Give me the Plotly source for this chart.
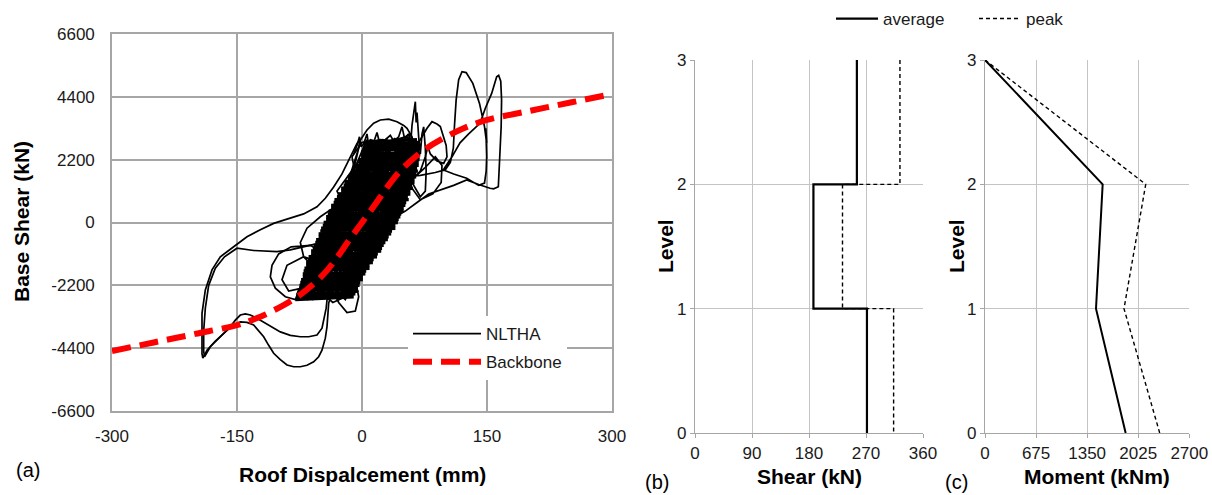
import plotly.graph_objects as go

# ---------------- (a) Base shear vs roof displacement ----------------
backbone_disp = [-300, -250, -200, -150, -122, -94, -75, -60, -45, -30, -15, 0,
                 15, 30, 45, 60, 75, 94, 122, 150, 200, 250, 300]
backbone_shear = [-4500, -4200, -3900, -3590, -3300, -2890, -2550, -2200, -1780, -1230, -600, 0,
                  600, 1230, 1780, 2200, 2550, 2890, 3300, 3590, 3900, 4200, 4500]

# NLTHA response, as (displacement mm, shear kN) pairs
nltha_cloud_a = [
    (0, 0), (8, 400), (18, 1000), (28, 1600), (24, 1200), (10, 400), (-6, -300), (-18, -900), (-28, -1500), (-24, -1100),
    (-10, -400), (6, 300), (20, 1100), (34, 1900), (40, 2300), (34, 2000), (18, 1200), (2, 400), (-14, -400), (-30, -1300),
    (-42, -1900), (-38, -1500), (-24, -800), (-8, 0), (10, 900), (26, 1700), (44, 2600), (50, 2900), (42, 2400), (26, 1500),
    (8, 600), (-12, -400), (-34, -1400), (-54, -2300), (-60, -2500), (-50, -2000), (-32, -1100), (-14, -200), (4, 700), (20, 1500),
    (38, 2400), (54, 3000), (58, 2700), (48, 2100), (30, 1200), (12, 300), (-6, -700), (-26, -1700), (-44, -2400), (-66, -2700),
    (-62, -2300), (-46, -1600), (-28, -800), (-12, 100), (2, 900), (14, 1800), (24, 2600), (30, 2950), (26, 2500), (16, 1600),
    (0, 600), (-16, -300), (-32, -1200), (-52, -2000), (-74, -2600), (-72, -2200), (-54, -1400), (-40, -600), (-30, 200), (-20, 1000),
    (-10, 1800), (0, 2500), (6, 2900), (2, 2300), (-8, 1500), (-20, 700), (-32, -200), (-44, -1100), (-58, -1900), (-48, -1300),
    (-38, -500), (-18, 400), (0, 1200), (18, 2000), (40, 2800), (58, 3100), (54, 2500), (40, 1700), (26, 800), (10, -200),
    (-6, -1200), (-20, -2000), (-30, -2500), (-24, -2000), (-8, -1000), (8, 100), (24, 1100), (40, 2000), (56, 2600), (50, 2000),
    (34, 1000), (16, 0), (-2, -1000), (-16, -1900), (-36, -2400), (-56, -2650), (-50, -2200), (-36, -1500), (-20, -600), (-4, 400),
    (10, 1300), (22, 2100), (34, 2800), (44, 2900), (40, 2500), (28, 1700), (12, 800), (-4, -100), (-20, -1000), (-34, -1800),
]
nltha_cloud_b = [
    (-46, -2300), (-40, -1800), (-26, -1000), (-12, -200), (4, 700), (16, 1500), (28, 2300), (36, 2700), (30, 2200), (18, 1400),
    (2, 500), (-14, -500), (-30, -1400), (-44, -2000), (-62, -2500), (-80, -2700), (-76, -2400), (-60, -1800), (-48, -1000), (-38, -200),
    (-28, 600), (-18, 1300), (-10, 2000), (-4, 2600), (-8, 2100), (-18, 1300), (-30, 500), (-40, -300), (-52, -1200), (-64, -2000),
    (-70, -2200), (-60, -1600), (-46, -800), (-34, 0), (-22, 800), (-10, 1600), (2, 2300), (10, 2800), (22, 2900), (34, 2850),
    (46, 2950), (52, 3000), (60, 2900), (62, 2500), (56, 1900), (44, 1200), (30, 400), (16, -400), (2, -1200), (-8, -2000),
    (-4, -2600), (-8, -3100), (-18, -3150), (-28, -2800), (-38, -2200), (-52, -1600), (-40, -1000), (-24, -200), (-8, 600), (8, 1400),
    (22, 2200), (36, 2800), (48, 2600), (54, 2100), (44, 1500), (30, 700), (18, -100), (4, -900), (-10, -1700), (-24, -2300),
    (-40, -2600), (-48, -2400), (-38, -1800), (-24, -1100), (-8, -300), (8, 500), (22, 1300), (36, 2100), (50, 2700), (44, 2200),
    (30, 1400), (14, 600), (0, -200), (-16, -1100), (-30, -1900), (-20, -1400), (-4, -600), (12, 300), (28, 1200), (44, 2100),
    (58, 2800), (60, 2300), (50, 1600), (36, 800), (20, 0), (4, -800), (-12, -1600), (-26, -2200), (-14, -1500), (0, -700),
    (14, 200), (30, 1000), (46, 1800), (54, 2300), (44, 1600), (28, 600), (12, -300), (-2, -1100), (-14, -1800), (-6, -1300),
]
nltha_cloud_c = [
    (-75, -2600), (-45, -2000), (-30, -2300), (-60, -2700), (-40, -2500), (-15, -1900), (-5, -2400), (-35, -2800), (-55, -2300), (-70, -2000),
    (-50, -1700), (-20, -1500), (-10, -2000), (-40, -1900), (-60, -1600), (-45, -1100), (-20, -900), (0, -1300), (-10, -1800), (-30, -1600),
    (-50, -1300), (-35, -800), (-10, -500), (10, -900), (0, -1400), (-25, -1200), (-45, -900), (-30, -300), (-5, -100), (15, -500),
    (25, -200), (5, -900), (-20, -1000), (-38, -500), (-20, 100), (5, 300), (25, 0), (35, 200), (15, -300), (-10, -600),
    (-35, -200), (-40, 200), (-25, 700), (0, 900), (25, 500), (40, 800), (20, 200), (-5, 100), (-30, 400), (-15, 1000),
    (10, 1300), (35, 1000), (45, 1300), (25, 800), (0, 600), (-25, 800), (-30, 1100), (-15, 1700), (10, 1900), (35, 1500),
    (50, 1800), (30, 1200), (5, 1100), (-20, 1500), (-5, 2100), (20, 2400), (45, 2100), (55, 2500), (35, 1900), (10, 1700),
    (-10, 2000), (-12, 2300), (0, 2800), (25, 2900), (50, 2700), (60, 2900), (45, 2300), (20, 2200), (0, 2500), (10, 2900),
    (35, 2700), (55, 2400), (58, 2000), (40, 1900), (20, 2600), (40, 2950), (30, 2300), (15, 1200), (0, 300), (-15, -700),
    (-30, -1700), (-45, -2600), (-25, -2100), (-5, -1000), (12, 100), (28, 1300), (45, 2500), (50, 2100), (35, 1100), (20, 100),
    (5, -700), (-15, -1500), (-35, -2100), (-55, -2500), (-65, -2200), (-45, -1400), (-25, -500), (-8, 500), (10, 1500), (25, 2300),
    (15, 2700), (0, 2000), (-20, 1100), (-35, 200), (-50, -700), (-65, -1700), (-78, -2500), (-58, -2650), (-30, -2000), (-12, -900),
    (5, 200), (22, 1000), (42, 1500), (55, 1600), (40, 800), (25, -100), (8, -1000), (-8, -1900), (-20, -2700), (-40, -2200),
]
# dense core of the response: rapid reversals across the whole band
nltha_core_up = [
    (-80, -2700), (-10, -2600), (-78, -2500), (-5, -2400), (-75, -2300), (-3, -2200), (-74, -2100), (1, -2000), (-71, -1900), (4, -1800),
    (-70, -1700), (9, -1600), (-67, -1500), (13, -1400), (-65, -1300), (18, -1200), (-61, -1100), (23, -1000), (-59, -900), (26, -800),
    (-56, -700), (31, -600), (-52, -500), (35, -400), (-50, -300), (40, -200), (-47, -100), (43, 0), (-43, 100), (46, 200),
    (-41, 300), (50, 400), (-37, 500), (52, 600), (-34, 700), (56, 800), (-30, 900), (58, 1000), (-25, 1100), (61, 1200),
    (-22, 1300), (63, 1400), (-17, 1500), (65, 1600), (-13, 1700), (67, 1800), (-8, 1900), (68, 2000), (-4, 2100), (69, 2200),
    (-1, 2300), (70, 2400), (1, 2500), (70, 2600), (2, 2700), (68, 2800),
]
nltha_core_down = [
    (66, 2900), (2, 2800), (70, 2700), (1, 2600), (69, 2500), (-1, 2400), (69, 2300), (-4, 2200), (68, 2100), (-8, 2000),
    (66, 1900), (-12, 1800), (65, 1700), (-17, 1600), (63, 1500), (-21, 1400), (60, 1300), (-25, 1200), (58, 1100), (-29, 1000),
    (55, 900), (-33, 800), (53, 700), (-37, 600), (50, 500), (-40, 400), (47, 300), (-43, 200), (44, 100), (-46, 0),
    (40, -100), (-49, -200), (36, -300), (-52, -400), (32, -500), (-55, -600), (28, -700), (-58, -800), (24, -900), (-61, -1000),
    (19, -1100), (-64, -1200), (14, -1300), (-67, -1400), (9, -1500), (-69, -1600), (5, -1700), (-71, -1800), (1, -1900), (-73, -2000),
    (-2, -2100), (-75, -2200), (-5, -2300), (-77, -2400), (-8, -2500), (-79, -2600),
]
nltha_spikes = [
    (-10, 2400), (-6, 2700), (-3, 3000), (-1, 2650), (2, 2750), (6, 3100), (8, 2700), (14, 2800), (18, 3150), (21, 2800),
    (28, 2900), (34, 3050), (38, 2850), (44, 3000), (48, 3350), (51, 2950), (56, 3100), (58, 2600), (60, 3400), (62, 3900),
    (64, 4230), (65, 3500), (66, 3850), (68, 3000), (70, 2400), (72, 3100), (74, 3350), (76, 2600), (77, 1800), (76, 1100),
    (70, 900), (60, 1400), (55, 2100),
]
nltha_left_small = [
    (-30, -1700), (-50, -1000), (-62, -800), (-85, -850), (-100, -1100), (-108, -1500), (-110, -1900), (-104, -2300),
    (-92, -2600), (-80, -2700), (-70, -2500), (-58, -2000), (-50, -1400), (-70, -1200), (-90, -1500), (-96, -2000),
    (-88, -2400), (-72, -2300), (-56, -1800), (-40, -1200), (-30, 600), (-50, 200), (-66, -200), (-74, -700),
    (-70, -1200), (-60, -1500), (-44, -900),
]
nltha_left_arc_1 = [
    (-4, 2600), (-2, 2900), (-6, 2770), (-14, 2300), (-24, 1700), (-34, 1240), (-44, 850), (-54, 550), (-70, 300),
    (-90, 120), (-106, -30), (-122, -250), (-138, -500), (-154, -850), (-170, -1200), (-180, -1660), (-188, -2360),
    (-192, -3180), (-192, -4000), (-192, -4600), (-191, -4750), (-186, -4470), (-176, -4150), (-166, -3880),
    (-156, -3620), (-146, -3480), (-138, -3500), (-130, -3590), (-124, -3780), (-118, -4000), (-112, -4300),
    (-106, -4580), (-98, -4800), (-90, -4990), (-82, -5050), (-74, -5050), (-66, -5000), (-58, -4880), (-52, -4700),
    (-48, -4470), (-44, -4050), (-42, -3650), (-40, -2830), (-36, -2400), (-26, -1800),
]
nltha_left_arc_2 = [
    (-36, -2300), (-40, -600), (-55, -750), (-70, -850), (-86, -960), (-102, -1020), (-130, -980), (-150, -900),
    (-165, -1200), (-176, -1600), (-184, -2200), (-188, -3000), (-190, -3800), (-190, -4500), (-189, -4700),
    (-182, -4350), (-174, -4120), (-166, -3880), (-158, -3650), (-152, -3420), (-146, -3240), (-140, -3200),
    (-134, -3240), (-126, -3350), (-118, -3480), (-108, -3650), (-98, -3830), (-86, -3950), (-74, -4000),
    (-64, -4000), (-54, -3940), (-48, -3700), (-46, -3415), (-43, -3000), (-42, -2715), (-38, -2300), (-30, -1700),
]
nltha_top_loop = [
    (-4, 2600), (-2, 2890), (6, 3240), (14, 3480), (22, 3590), (32, 3620), (42, 3530), (50, 3400), (54, 3300),
    (60, 3000), (62, 2700), (60, 2300), (52, 1800),
]
nltha_right_loops = [
    (52, 1800), (60, 2500), (70, 2900), (78, 3300), (84, 3530), (90, 3450), (94, 3360), (98, 3000), (101, 2700),
    (102, 2300), (98, 2070), (90, 2150), (82, 2400), (79, 2650), (76, 2300), (70, 1800), (60, 1500), (75, 1900),
    (88, 2300), (96, 2000), (95, 1400), (85, 1000), (70, 800), (50, 1600), (70, 1650), (88, 1750), (100, 1850),
    (106, 2100), (109.6, 2600), (111, 3400), (113, 4300), (116, 5000), (120, 5280), (125, 5250), (133, 4870),
    (141, 4170), (147, 3360), (149.6, 2770), (148.6, 3300), (149.6, 2300), (149, 1800), (147, 1380), (140, 1300),
    (125.6, 1550), (110, 1700), (97.6, 1840), (108, 2300), (117.6, 2790), (128, 3100), (137.6, 3360), (141.6, 3470),
    (148, 4000), (155.6, 4520), (161.6, 5100), (164, 5150), (166.5, 4950), (167.5, 4300), (167, 3360), (165, 2300),
    (163.6, 1250), (158, 1180), (153.6, 1200), (140, 1330), (125.6, 1490), (110, 1300), (93.6, 1140), (80, 1000),
    (66, 700), (52, 400), (40, 200),
]
nltha_segments = [nltha_cloud_a, nltha_cloud_b, nltha_cloud_c, nltha_core_up, nltha_core_down, nltha_spikes,
                  nltha_left_small, nltha_left_arc_1, nltha_left_arc_2, nltha_top_loop, nltha_right_loops]
nltha_widths = [1.7, 1.7, 1.7, 3.4, 3.4, 1.7, 1.7, 1.7, 1.7, 1.7, 1.7]

disp_ticks = [-300, -150, 0, 150, 300]
disp_labels = ["-300", "-150", "0", "150", "300"]
shear_ticks = [-6600, -4400, -2200, 0, 2200, 4400, 6600]
shear_labels = ["-6600", "-4400", "-2200", "0", "2200", "4400", "6600"]

# ---------------- (b) storey shear ----------------
levels = [0, 1, 2, 3]
storey_shear_avg = [271.5, 187, 255.6]    # storeys 0-1, 1-2, 2-3
storey_shear_peak = [313.6, 232.9, 323.6]
shear_ticks_b = [0, 90, 180, 270, 360]

# ---------------- (c) moment ----------------
moment_avg = [1859, 1467, 1555, 0]     # at levels 0..3
moment_peak = [2309, 1837, 2124, 0]
moment_ticks = [0, 675, 1350, 2025, 2700]

FONT = "Liberation Sans, Arial, sans-serif"
TXT = "#1a1a1a"
W, H = 1212, 495


def px(x):
    return x / W


def py(y):
    return 1 - y / H


def step_profile(vals):
    xs, ys = [], []
    for i in range(len(vals) - 1, -1, -1):
        xs += [vals[i], vals[i]]
        ys += [levels[i + 1], levels[i]]
    return xs, ys


fig = go.Figure()

for k, seg in enumerate(nltha_segments):
    fig.add_trace(go.Scatter(
        x=[p[0] for p in seg], y=[p[1] for p in seg], mode="lines",
        line=dict(color="black", width=nltha_widths[k]), name="NLTHA", legendgroup="nltha",
        showlegend=(k == 0), xaxis="x", yaxis="y", legend="legend", hoverinfo="skip"))

fig.add_trace(go.Scatter(
    x=backbone_disp, y=backbone_shear, mode="lines",
    line=dict(color="#ff0000", width=6, dash="19px,9px", shape="spline"),
    name="Backbone", legendgroup="bb", xaxis="x", yaxis="y", legend="legend"))

bx, by = step_profile(storey_shear_avg)
fig.add_trace(go.Scatter(x=bx, y=by, mode="lines", line=dict(color="black", width=2.2),
                         name="average", legendgroup="avg", xaxis="x2", yaxis="y2", legend="legend2"))
bx, by = step_profile(storey_shear_peak)
fig.add_trace(go.Scatter(x=bx, y=by, mode="lines", line=dict(color="black", width=1.4, dash="4px,3px"),
                         name="peak", legendgroup="pk", xaxis="x2", yaxis="y2", legend="legend2"))

fig.add_trace(go.Scatter(x=moment_avg, y=levels, mode="lines", line=dict(color="black", width=2),
                         name="average", showlegend=False, xaxis="x3", yaxis="y3"))
fig.add_trace(go.Scatter(x=moment_peak, y=levels, mode="lines", line=dict(color="black", width=1.4, dash="4px,3px"),
                         name="peak", showlegend=False, xaxis="x3", yaxis="y3"))

grid_a = dict(showgrid=True, gridcolor="#a6a6a6", gridwidth=1.6, showline=True, mirror=True,
              linecolor="#a6a6a6", linewidth=1.6, zeroline=False, ticks="", automargin=False,
              tickfont=dict(family=FONT, size=17, color=TXT))
grid_b = dict(showgrid=True, gridcolor="#c4c4c4", gridwidth=1, showline=True, linecolor="#a6a6a6",
              linewidth=1.2, zeroline=False, ticks="outside", ticklen=4, tickcolor="#a6a6a6",
              automargin=False, tickfont=dict(family=FONT, size=17, color=TXT))

fig.update_layout(
    width=W, height=H, margin=dict(l=0, r=0, t=0, b=0, autoexpand=False),
    paper_bgcolor="white", plot_bgcolor="white",
    xaxis=dict(domain=[px(112), px(612)], range=[-300, 300], tickvals=disp_ticks, ticktext=disp_labels,
               anchor="y", ticklabelstandoff=9, **grid_a),
    yaxis=dict(domain=[py(411), py(34)], range=[-6600, 6600], tickvals=shear_ticks, ticktext=shear_labels,
               anchor="x", ticklabelstandoff=12, **grid_a),
    xaxis2=dict(domain=[px(695), px(923)], range=[0, 360], tickvals=shear_ticks_b, anchor="y2",
                ticklabelstandoff=0, **grid_b),
    yaxis2=dict(domain=[py(433), py(60)], range=[0, 3], tickvals=levels, anchor="x2", **grid_b),
    xaxis3=dict(domain=[px(985), px(1189.3)], range=[0, 2700], tickvals=moment_ticks, anchor="y3",
                ticklabelstandoff=0, **grid_b),
    yaxis3=dict(domain=[py(433), py(60)], range=[0, 3], tickvals=levels, anchor="x3", **grid_b),
    legend=dict(x=px(408), y=py(316), xanchor="left", yanchor="top", bgcolor="white",
                borderwidth=0, font=dict(family=FONT, size=17, color=TXT), tracegroupgap=3,
                itemwidth=68),
    legend2=dict(orientation="h", x=px(831), y=py(1), xanchor="left", yanchor="top",
                 bgcolor="rgba(0,0,0,0)", font=dict(family=FONT, size=17, color=TXT),
                 itemwidth=42, entrywidth=86, entrywidthmode="pixels"),
    showlegend=True,
)

ann = [
    ("Base Shear (kN)", 21, 222, 21, True, -90),
    ("Roof Dispalcement (mm)", 362, 474, 21, True, 0),
    ("(a)", 28, 470, 20, False, 0),
    ("Level", 665, 246, 21, True, -90),
    ("Shear (kN)", 809, 476, 21, True, 0),
    ("(b)", 657, 482, 20, False, 0),
    ("Level", 956, 246, 21, True, -90),
    ("Moment (kNm)", 1097, 476, 21, True, 0),
    ("(c)", 956, 482, 20, False, 0),
]
for text, x, y, size, bold, ang in ann:
    fig.add_annotation(text=f"<b>{text}</b>" if bold else text, x=px(x), y=py(y), xref="paper", yref="paper",
                       showarrow=False, textangle=ang, xanchor="center", yanchor="middle",
                       font=dict(family=FONT, size=size, color="black"))

fig.write_html("out.html")
